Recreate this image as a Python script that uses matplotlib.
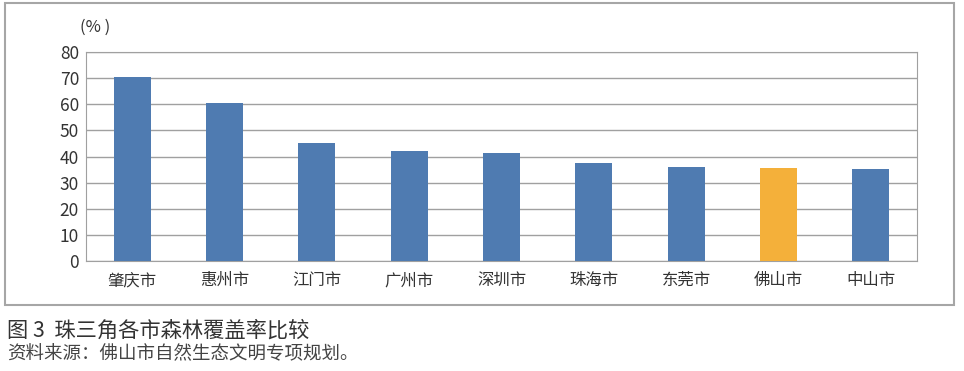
import matplotlib.pyplot as plt
from matplotlib.patches import Rectangle

plt.rcParams['font.family'] = ['Noto Sans CJK SC', 'DejaVu Sans']

# 数据
cities = ["肇庆市", "惠州市", "江门市", "广州市", "深圳市", "珠海市", "东莞市", "佛山市", "中山市"]
coverage = [70.4, 60.5, 45.2, 42.1, 41.4, 37.6, 36.0, 35.6, 35.3]
highlight = "佛山市"

W, H = 964, 371
fig = plt.figure(figsize=(W / 100, H / 100), dpi=100)

# 外框
fig.patches.append(Rectangle((5 / W, 1 - 305 / H), (954 - 5) / W, (305 - 3) / H,
                             transform=fig.transFigure, fill=False,
                             edgecolor="#a6a6a6", linewidth=1.5))

ax = fig.add_axes([86 / W, 1 - 261 / H, (917 - 86) / W, (261 - 52) / H])
colors = ["#f4b03a" if c == highlight else "#4f7bb1" for c in cities]
ax.bar(range(len(cities)), coverage, width=0.4, color=colors, zorder=3)

ax.set_xlim(-0.5, len(cities) - 0.5)
ax.set_ylim(0, 80)
ax.set_yticks(range(0, 81, 10))
ax.set_xticks(range(len(cities)))
ax.set_xticklabels(cities)
ax.grid(axis="y", color="#a0a0a0", linewidth=1, zorder=0)
for s in ax.spines.values():
    s.set_color("#a0a0a0")
ax.tick_params(axis="y", length=0, labelsize=12.5, colors="#333333", pad=5)
ax.tick_params(axis="x", length=0, labelsize=11.8, colors="#333333", pad=8)

fig.text(80 / W, 1 - 27 / H, "(% )", fontsize=12, color="#333333", va="center")

fig.text(7 / W, 1 - 331 / H, "图 3  珠三角各市森林覆盖率比较", fontsize=15.3,
         color="#333333", va="center")
fig.text(7 / W, 1 - 354 / H, "资料来源：佛山市自然生态文明专项规划。", fontsize=13.3,
         color="#444444", va="center")

fig.savefig("out.png", dpi=100)
